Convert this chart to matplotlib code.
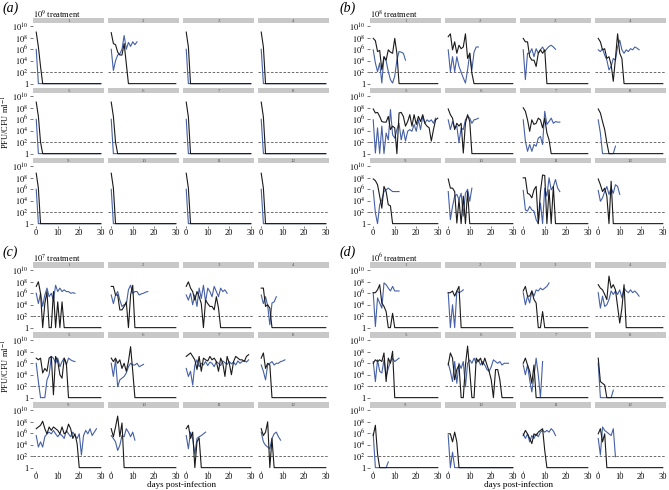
import matplotlib
matplotlib.use("Agg")
import matplotlib.pyplot as plt
from matplotlib.patches import Rectangle

plt.rcParams["font.family"] = ["Liberation Serif", "DejaVu Serif"]
plt.rcParams["mathtext.fontset"] = "stix"

# values are log10(PFU or CFU per ml), one per day starting at day 0
follow_up_end = 30
detection_limit = 2
panel_letters = ["a", "b", "c", "d"]
treatment_doses = ["9", "8", "7", "6"]
replicate_labels = [str(i) for i in range(1, 13)]

black_1e9 = [
    [9.0, 6.4, 3.0, 0], [8.9, 7.0, 6.8, 5.5, 5.0, 5.0, 7.0, 3.5, 0], [9.0, 6.4, 0], [9.0, 6.4, 0],
    [9.0, 6.5, 2.0, 0], [9.0, 6.5, 2.0, 0], [9.0, 6.4, 0], [9.0, 6.4, 0],
    [8.8, 6.2, 0], [8.8, 6.2, 0], [8.8, 6.2, 0], [8.8, 6.2, 0],
]
blue_1e9 = [
    [6.0, 0], [6.0, 2.3, 4.0, 5.0, 5.2, 6.0, 8.4, 6.0, 7.2, 6.5, 7.3, 6.8, 7.3], [6.0, 0], [6.0, 0],
    [6.0, 0], [6.0, 0], [6.0, 0], [6.0, 0],
    [6.0, 0], [6.0, 0], [6.0, 0], [6.0, 0],
]

black_1e8 = [
    [7.9, 7.5, 5.6, 5.8, 2.4, 4.7, 4.1, 5.9, 5.5, 5.3, 7.9, 5.3, 0],
    [8.2, 8.7, 5.9, 7.3, 5.3, 6.7, 6.1, 6.4, 8.7, 4.4, 5.3, 1.8, 0],
    [7.9, 7.3, 7.3, 4.7, 4.1, 4.1, 3.0, 5.3, 5.9, 5.3, 5.9, 0],
    [7.9, 7.3, 5.9, 6.1, 4.4, 4.7, 3.3, 0.4, 4.4, 8.7, 5.3, 4.4, 0],
    [7.8, 7.1, 7.2, 6.5, 5.6, 5.5, 5.5, 6.5, 4.2, 4.8, 4.5, 0, 7.1, 7.2, 6.5, 4.8,
     5.6, 6.8, 4.8, 6.8, 5.1, 6.5, 5.6, 6.8, 5.3, 4.8, 4.5, 2.2, 4.2, 5.9, 6.2],
    [7.8, 6.8, 6.2, 4.2, 5.3, 4.8, 5.3, 0.1, 5.3, 6.8, 5.6, 0],
    [8.0, 7.4, 5.9, 3.9, 5.9, 5.1, 5.3, 6.2, 5.9, 4.5, 6.2, 3.6, 2.4, 0],
    [7.8, 7.1, 5.6, 4.2, 1.9, 0],
    [7.8, 7.5, 6.8, 4.8, 2.7, 6.5, 5.6, 3.3, 3.1, 0],
    [7.8, 6.2, 6.2, 5.6, 0.1, 4.2, 0, 4.8, 0, 5.6, 0],
    [8.0, 8.0, 5.3, 5.1, 4.5, 5.9, 6.5, 0, 5.6, 8.5, 8.4, 0, 5.9, 0, 6.5, 0],
    [7.8, 6.8, 5.6, 6.2, 4.8, 0, 7.4, 0],
]
blue_1e8 = [
    [5.9, 3.6, 2.1, 3.6, 0.1, 4.7, 4.0, 2.1, 0.7, 0.1, 1.3, 4.1, 5.6, 5.5, 5.3, 4.1],
    [5.9, 2.1, 4.7, 2.1, 4.7, 3.0, 2.0, 1.0, 0.1, 2.4, 5.3, 2.4, 5.5, 6.4, 6.4],
    [5.9, 0.7, 5.3, 5.3, 6.1, 4.7, 6.1, 5.3, 5.9, 6.4, 5.6, 6.1, 6.5, 6.7, 6.4, 6.0],
    [5.9, 5.6, 6.1, 5.0, 4.1, 2.4, 3.0, 4.4, 4.1, 6.4, 7.6, 5.9, 5.3, 5.9, 5.6, 6.1, 5.9, 6.4, 6.2, 5.9],
    [5.9, 0.1, 4.5, 0, 4.8, 0, 3.6, 2.4, 7.7, 3.3, 2.7, 4.2, 5.3, 2.4, 4.2, 2.2,
     3.9, 4.2, 3.9, 5.1, 3.9, 5.9, 4.2, 6.5, 5.3, 5.9, 5.6, 5.9, 5.3, 6.2],
    [5.9, 4.2, 5.6, 4.5, 4.8, 1.9, 4.5, 4.2, 5.9, 6.5, 6.2, 5.3, 5.9, 6.0, 6.2],
    [5.9, 2.2, 0.4, 1.6, 0.4, 1.6, 1.3, 2.7, 3.0, 1.6, 7.4, 5.1, 5.6, 6.2, 5.3, 5.6, 5.5, 5.5],
    [5.9, 3.6, 0, 0, 0, 0, 0, 0, 1.3],
    [5.8, 1.9, 0, 3.3, 4.2, 5.6, 5.9, 6.2, 5.9, 5.6, 5.6, 5.6, 5.6],
    [5.6, 0.7, 3.0, 4.8, 5.1, 4.2, 5.3, 1.3, 5.3, 6.0, 3.9, 6.2],
    [5.8, 2.4, 2.2, 3.0, 2.4, 2.2, 0.7, 0, 3.6, 0, 6.2, 4.8, 8.0, 5.9, 6.5, 7.7, 6.2, 5.6],
    [5.8, 3.9, 4.5, 5.6, 6.5, 5.1, 6.2, 5.3, 6.8, 6.5, 5.1],
]

black_1e7 = [
    [7.2, 8.0, 6.0, 0, 4.2, 6.3, 0, 0, 6.3, 0, 4.5, 0, 4.5, 0],
    [7.2, 7.2, 5.7, 5.7, 3.1, 3.1, 3.7, 4.5, 0, 5.7, 7.4, 0],
    [7.2, 8.0, 6.9, 6.3, 4.8, 6.3, 5.4, 4.2, 0, 4.8, 4.2, 3.7, 3.7, 3.1, 5.4, 3.4, 0],
    [6.9, 6.9, 3.7, 4.0, 3.4, 0],
    [6.9, 6.6, 6.9, 4.3, 5.1, 4.6, 6.9, 7.2, 0.5, 7.2, 6.3, 4.0, 3.4, 6.9, 6.0, 0],
    [6.9, 6.3, 6.9, 6.0, 6.6, 5.1, 6.0, 4.6, 6.3, 8.9, 4.6, 0],
    [7.2, 7.5, 7.8, 7.2, 6.6, 4.9, 7.2, 4.6, 6.9, 6.6, 6.4, 7.2, 6.6, 6.9, 6.3,
     4.6, 6.9, 6.0, 3.7, 7.2, 6.0, 4.0, 6.3, 7.2, 6.9, 6.6, 6.6, 6.3, 7.2, 7.5],
    [6.9, 7.8, 5.1, 6.0, 5.7, 0],
    [6.8, 7.1, 7.4, 8.1, 6.8, 5.9, 7.1, 6.5, 7.1, 6.8, 6.5, 5.9, 7.1, 5.9, 6.2,
     7.6, 6.8, 5.1, 5.9, 4.2, 0],
    [6.8, 5.4, 7.1, 9.0, 5.4, 7.8, 0],
    [6.8, 7.4, 5.1, 6.2, 0, 4.5, 5.2, 0],
    [6.8, 5.6, 6.2, 8.0, 0, 5.1, 0],
]
blue_1e7 = [
    [6.0, 4.2, 6.0, 3.7, 5.7, 6.9, 5.4, 6.0, 4.8, 7.4, 6.3, 6.9, 6.3, 6.6, 6.3, 6.3, 6.0, 6.1, 6.0],
    [5.7, 4.2, 5.7, 6.3, 4.8, 3.7, 4.0, 4.0, 6.6, 7.4, 6.0, 6.3, 6.3, 5.7, 5.9, 6.0, 6.2, 6.3],
    [5.7, 4.8, 6.0, 4.0, 5.7, 3.7, 6.9, 5.1, 7.4, 4.5, 6.9, 6.3, 5.4, 7.2, 6.3, 5.4, 6.9, 6.3, 6.6, 6.0],
    [5.7, 4.2, 5.4, 3.8, 0.5, 4.3, 4.5, 5.4],
    [6.0, 2.8, 0, 0, 0, 3.1, 4.0, 7.2, 6.9, 6.0, 6.9, 5.4, 6.3, 6.9, 5.7, 6.9, 6.6, 6.4, 6.3],
    [6.0, 3.7, 6.6, 1.9, 3.1, 3.4, 3.7, 4.3, 5.4, 6.0, 5.7, 5.7, 6.0, 5.4, 5.6, 5.8],
    [5.1, 3.7, 4.6, 2.2, 5.7, 6.6, 5.4, 6.0, 5.7, 6.3, 5.6, 6.2, 6.0, 5.4, 6.3,
     6.0, 5.6, 6.4, 6.1, 5.8, 6.3, 5.9, 6.2, 5.7, 6.4, 6.0, 6.3, 6.5, 6.2, 6.6],
    [5.7, 4.6, 3.1, 5.7, 6.0, 6.3, 5.7, 6.0, 6.0, 6.3, 6.4, 6.6],
    [5.6, 3.6, 4.5, 3.6, 5.4, 5.9, 6.2, 5.9, 6.5, 5.9, 5.4, 5.9, 5.6, 5.1, 6.5,
     5.9, 5.4, 6.2, 5.6, 5.1, 5.9, 2.2, 5.6, 6.5, 5.9, 6.8, 5.6, 6.2, 6.8],
    [5.6, 5.1, 4.5, 3.0, 3.9, 5.6, 5.4, 6.8, 6.2, 5.4, 6.2, 4.8],
    [5.6, 3.3, 6.2, 5.1, 2.4, 5.1, 5.4, 5.6, 5.9, 6.2],
    [6.2, 4.5, 3.9, 3.6, 3.3, 5.1, 5.9, 6.2, 5.4, 4.8],
]

black_1e6 = [
    [6.1, 6.1, 6.6, 7.5, 4.3, 3.7, 2.8, 0, 0, 2.5, 0],
    [6.1, 6.1, 6.4, 5.5, 6.4, 7.2, 0],
    [6.4, 7.2, 5.5, 5.5, 6.4, 4.9, 4.3, 0, 0, 2.8, 0],
    [7.5, 6.9, 6.6, 5.8, 4.9, 9.0, 6.9, 7.5, 6.6, 3.7, 0.8, 3.4, 7.5, 0],
    [6.0, 6.6, 6.3, 6.6, 6.3, 7.8, 2.8, 6.9, 6.0, 8.1, 0],
    [5.7, 7.8, 6.9, 3.1, 4.9, 5.7, 0, 0, 5.7, 9.0, 4.6, 0, 0, 6.9, 6.3, 6.9,
     5.7, 6.9, 5.7, 4.6, 3.1, 0, 4.9, 4.9, 3.1, 0],
    [6.0, 6.9, 5.7, 4.6, 2.5, 5.7, 0],
    [6.9, 2.8, 2.5, 2.2, 0],
    [5.6, 7.4, 2.4, 0],
    [5.9, 5.9, 4.5, 6.2, 4.5, 0],
    [5.6, 6.5, 5.9, 5.1, 4.2, 5.9, 5.6, 6.2, 6.5, 6.8, 3.0, 0],
    [5.9, 6.8, 4.5, 5.9, 0],
]
blue_1e6 = [
    [6.1, 0.2, 5.2, 4.3, 3.4, 7.8, 7.5, 6.9, 6.4, 7.2, 6.4, 6.4, 6.4],
    [6.1, 0, 4.0, 0, 6.4, 6.1, 6.3, 6.6],
    [6.1, 4.0, 5.5, 4.3, 6.4, 5.5, 6.6, 6.4, 6.9, 6.6, 6.9, 7.2, 7.8],
    [6.1, 3.4, 5.5, 3.7, 4.0, 4.9, 6.4, 5.8, 6.4, 5.8, 6.6, 5.2, 6.9, 6.4, 6.1, 6.6, 6.1, 6.4, 6.0, 5.5],
    [6.3, 2.8, 6.6, 4.6, 4.3, 6.6, 3.7, 5.1, 6.3, 6.9, 6.3, 6.6, 6.9],
    [6.0, 4.6, 2.8, 6.3, 2.5, 6.0, 5.1, 6.3, 1.9, 6.0, 6.6, 6.0, 6.9, 6.0, 6.6,
     5.7, 6.3, 5.7, 4.9, 4.6, 5.4, 6.6, 6.3, 6.0, 6.3, 5.7, 6.0, 6.0, 6.0],
    [5.7, 4.0, 5.7, 3.1, 1.0, 3.7, 6.9, 4.0, 0, 6.3],
    [6.0, 0, 0, 0, 0, 0, 0, 1.3],
    [5.9, 0, 0, 0, 0, 0, 0, 1.0],
    [5.6, 0, 2.7, 0],
    [5.9, 5.1, 5.9, 4.5, 5.6, 5.1, 5.9, 5.4, 6.2, 6.5, 6.2, 6.5, 6.2, 6.8, 6.4, 5.6],
    [5.1, 2.2, 7.1, 6.5, 6.2, 5.9, 5.6, 6.8, 1.9],
]

black_series = [black_1e9, black_1e8, black_1e7, black_1e6]
blue_series = [blue_1e9, blue_1e8, blue_1e7, blue_1e6]

black_colour = "#1a1a1a"
blue_colour = "#4560a6"
strip_colour = "#c8c8c8"

W, H = 669.0, 490.0
fig = plt.figure(figsize=(W / 100, H / 100), dpi=100)


def px_axes(x, y, w, h):
    return fig.add_axes([x / W, 1 - (y + h) / H, w / W, h / H])


def with_tail(values):
    # series that reach 1 stay there until the end of follow-up
    days = list(range(len(values)))
    vals = list(values)
    if vals[-1] == 0 and days[-1] < follow_up_end:
        days.append(follow_up_end)
        vals.append(0)
    return days, vals


panel_origins = [(0, 0), (337, 0), (0, 244), (337, 244)]
strip_h = 5.5
plot_h = 63
plot_w = 71

for p in range(4):
    ox, oy = panel_origins[p]
    fig.text((ox + 3) / W, 1 - (oy + 8) / H, "(" + panel_letters[p] + ")",
             style="italic", fontsize=10, va="center", ha="left")
    fig.text((ox + 33) / W, 1 - (oy + 14) / H,
             "$10^{" + treatment_doses[p] + "}$ treatment",
             fontsize=6, va="center", ha="left")
    for i in range(12):
        r, c = divmod(i, 4)
        x0 = ox + 33 + 75 * c
        y0 = oy + 18 + 70 * r + strip_h
        ax = px_axes(x0, y0, plot_w, plot_h)
        ax.axhline(detection_limit, color="#555555", lw=0.6, ls=(0, (3, 2)), zorder=1)
        bd, bv = with_tail(blue_series[p][i])
        ax.plot(bd, bv, color=blue_colour, lw=0.8, zorder=2)
        kd, kv = with_tail(black_series[p][i])
        ax.plot(kd, kv, color=black_colour, lw=0.8, zorder=3)
        ax.set_xlim(-1.5, 31.5)
        ax.set_ylim(-0.5, 10.5)
        for s in ax.spines.values():
            s.set_visible(False)
        ax.set_xticks([0, 10, 20, 30])
        ax.set_yticks([0, 2, 4, 6, 8, 10])
        ax.set_yticklabels(["1", "$10^{2}$", "$10^{4}$", "$10^{6}$", "$10^{8}$", "$10^{10}$"])
        ax.tick_params(axis="y", length=2, width=0.5, color="#444444", pad=1.5, labelsize=6)
        ax.tick_params(axis="x", length=1.5, width=0.5, color="#444444", pad=0.5, labelsize=6)
        if c != 0:
            ax.tick_params(axis="y", left=False, labelleft=False)
        if r != 2:
            ax.tick_params(axis="x", bottom=False, labelbottom=False)
        hf = strip_h / plot_h
        ax.add_patch(Rectangle((0, 1), 1, hf, transform=ax.transAxes, clip_on=False,
                               facecolor=strip_colour, edgecolor="none"))
        ax.text(0.5, 1 + hf / 2, replicate_labels[i], transform=ax.transAxes,
                fontsize=3.5, color="#555555", ha="center", va="center")

for oy in (0, 244):
    fig.text(6 / W, 1 - (oy + 122) / H, "PFU/CFU ml$^{-1}$", rotation=90,
             fontsize=6, ha="center", va="center")
for ox in (0, 337):
    fig.text((ox + 181) / W, 1 - 485 / H, "days post-infection",
             fontsize=6.5, ha="center", va="center")

fig.savefig("out.png", dpi=100)
